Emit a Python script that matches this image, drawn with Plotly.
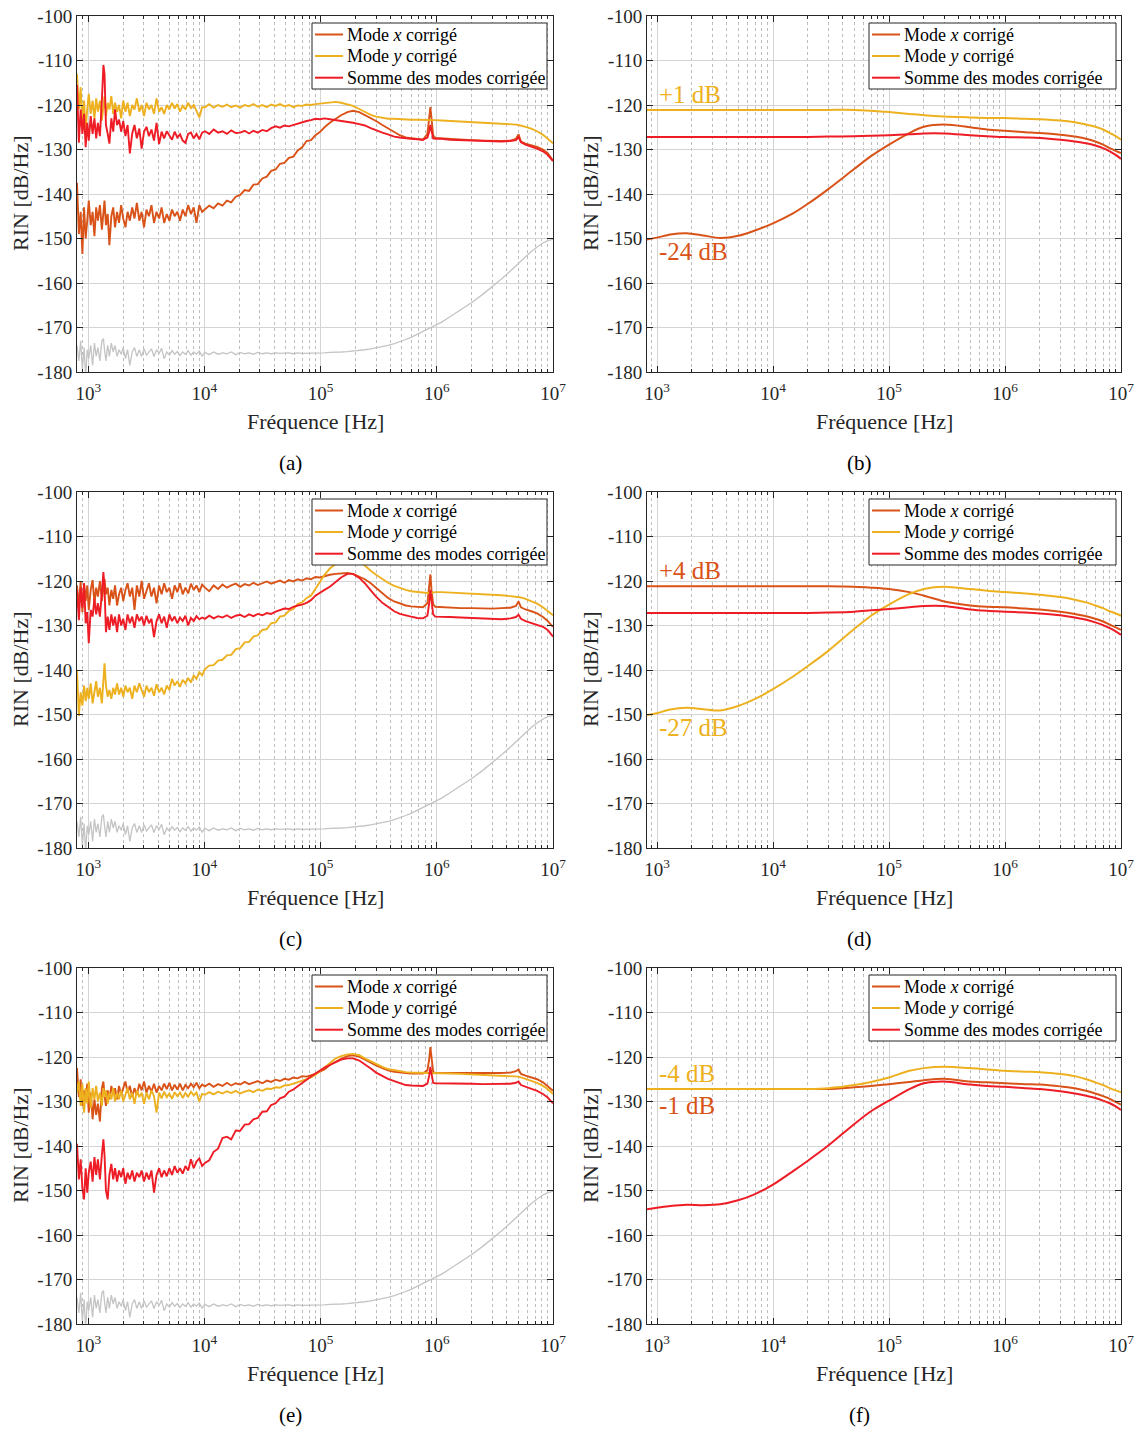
import math
import plotly.graph_objects as go

# ---------------- measured spectra (left column) ----------------
F = [800, 830, 860, 890, 920, 950, 980, 1010, 1050, 1090,
     1130, 1170, 1210, 1260, 1310, 1350, 1380, 1420, 1470, 1520,
     1580, 1640, 1700, 1770, 1840, 1920, 2000, 2090, 2180, 2280,
     2390, 2500, 2620, 2750, 2880, 3020, 3170, 3330, 3500, 3680,
     3870, 4070, 4280, 4500, 4740, 4990, 5260, 5540, 5840, 6160,
     6500, 6860, 7240, 7650, 8080, 8540, 9030, 9550,
     10100, 11000, 12000, 13100, 14300, 15600, 17000, 18600, 20300, 22200,
     24200, 26400, 28800, 31500, 34400, 37500, 41000, 44700, 48800, 53300,
     58200, 63500, 69300, 75700, 82600, 90200, 98500,
     108000, 120000, 135000, 150000, 170000, 190000, 215000, 240000, 270000, 300000,
     340000, 380000, 430000, 480000, 540000, 600000, 680000, 760000, 830000, 860000,
     880000, 900000, 930000, 970000,
     1.1e6, 1.3e6, 1.6e6, 2e6, 2.5e6, 3e6, 3.6e6, 4.3e6, 4.8e6, 5.05e6,
     5.3e6, 5.8e6, 6.5e6, 7.3e6, 8.2e6, 9e6, 1e7]

GRAY = [-174, -177.5, -173, -179.5, -174.5, -181, -175, -177, -174, -178.5,
        -173.5, -176.5, -174.5, -177.5, -173, -172.5, -175, -177.5, -174, -176.5,
        -173.5, -175.5, -174, -176.5, -175, -176, -174.5, -177, -175, -178.5,
        -175.5, -174.5, -176.5, -175, -176.5, -174.8, -176.2, -175.5, -174.8, -176.5,
        -175, -175.8, -174.7, -177, -175.5, -176.2, -175.2, -176, -175.4, -176.3,
        -175.5, -176, -175.2, -176.2, -175.5, -176, -175.3, -176.4,
        -175.6, -176.1, -175.5, -176, -175.7, -175.9, -175.5, -176.1, -175.6, -175.9,
        -175.7, -176, -175.6, -175.9, -175.7, -175.9, -175.7, -175.8, -175.8, -175.7,
        -175.9, -175.7, -175.8, -175.8, -175.7, -175.8, -175.7,
        -175.7, -175.6, -175.6, -175.5, -175.4, -175.3, -175.2, -175, -174.8, -174.6,
        -174.3, -174, -173.6, -173.2, -172.7, -172.2, -171.5, -170.9, -170.4, -170.2,
        -170.1, -170, -169.8, -169.5,
        -168.8, -167.6, -166.1, -164.4, -162.5, -160.9, -159.1, -157.3, -156.1, -155.6,
        -155.1, -154.1, -152.9, -151.9, -151, -150.5, -150.2]

A_X = [-137.5, -149, -144, -153.5, -143, -150, -146, -141.5, -147, -144,
       -149.5, -143, -146, -142.5, -148, -144, -141.5, -147, -144.5, -151.5,
       -145, -143, -147.5, -144, -146.5, -142.5, -145.5, -147.5, -144, -146,
       -143, -145.5, -142, -146, -144, -147.5, -143.5, -145, -142.5, -146.5,
       -144, -145.5, -143, -146.5, -144.5, -146, -143.5, -145, -144, -146,
       -143.5, -145, -142.5, -144.5, -143, -146.5, -142.5, -144,
       -143.5, -142.6, -143.2, -142.1, -142.6, -141.5, -141.9, -140.6, -140.2, -139.1,
       -139.3, -137.9, -137.8, -136.5, -136.1, -134.8, -134.5, -133.2, -133, -131.9,
       -131.6, -130.2, -129.5, -128.1, -127.9, -126.8, -126.1,
       -125, -124, -123, -122.3, -121.6, -121.3, -121.6, -122.2, -122.9, -123.6,
       -124.5, -125.3, -126.2, -126.8, -127.3, -127.5, -127.7, -127.8, -126.5, -123.5,
       -120.5, -123, -126.8, -127.4,
       -127.5, -127.7, -127.8, -127.9, -128, -128.1, -128.1, -128, -127.6, -126.6,
       -128.2, -128.7, -129, -129.4, -130, -130.8, -132.5]

A_Y = [-113, -121, -116, -124.5, -119, -125.5, -121, -117.5, -122, -119,
       -123, -118.5, -121.5, -119, -123.5, -120, -118, -122.5, -119.5, -121,
       -118, -122, -119.5, -121.5, -120, -123, -119, -121.5, -119.5, -122.5,
       -120, -121, -118.5, -121.5, -120, -122.5, -119.5, -121, -120, -122,
       -118.5, -121.5, -120.5, -122, -120, -121, -119.5, -120.8, -119.8, -121.5,
       -120.2, -121, -119.5, -120.7, -120, -121.3, -122.8, -120.5,
       -120.5, -119.8, -120.6, -120, -120.4, -119.9, -120.5, -120.1, -120.6, -120,
       -120.3, -119.8, -120.4, -120, -120.5, -119.9, -120.2, -119.8, -120.3, -120,
       -120.5, -120.1, -120.2, -119.9, -120, -119.8, -119.7,
       -119.6, -119.5, -119.3, -119.5, -119.8, -120.2, -120.9, -121.6, -122.2, -122.6,
       -122.9, -123.1, -123.1, -123.2, -123.2, -123.3, -123.3, -123.3, -123.3, -123.3,
       -123.4, -123.4, -123.4, -123.4,
       -123.5, -123.6, -123.7, -123.8, -123.9, -124.0, -124.1, -124.3, -124.4, -124.5,
       -124.6, -124.9, -125.3, -125.9, -126.7, -127.5, -128.6]

A_S = [-115.5, -128.5, -121, -126.5, -122, -129.5, -124, -128, -122.5, -126.5,
       -123, -127.5, -124, -127, -119, -111, -113, -124.5, -126.5, -128.7,
       -123, -126, -121, -124.5, -123.3, -126, -123.6, -127, -124.5, -130.9,
       -126.4, -124.5, -127.5, -125.3, -129.8, -126, -124.9, -127, -125.5, -128,
       -124, -128.8, -126, -127.5, -125.9, -127, -127.8, -126, -127.3, -126.6,
       -128, -128.5, -126.5, -126.2, -127.5, -126.5, -127.7, -126.2,
       -125.9, -126.5, -125.5, -126.2, -125.9, -126.5, -125.7, -126.3, -126.2, -125.8,
       -126.4, -125.8, -126.2, -125.6, -125.9, -125.2, -124.8, -125.1, -124.6, -124.8,
       -124.5, -124.1, -123.8, -123.6, -123.4, -123.1, -123.2,
       -123, -123.2, -123.4, -123.5, -123.7, -124, -124.3, -124.6, -125.2, -125.7,
       -126.2, -126.6, -127.1, -127.3, -127.5, -127.6, -127.7, -127.8, -127.3, -126,
       -124.5, -126, -127.5, -127.6,
       -127.6, -127.8, -127.9, -128.0, -128.1, -128.2, -128.2, -128.1, -127.9, -127.2,
       -128.4, -128.9, -129.3, -129.8, -130.4, -131.2, -132.6]

C_X = [-121, -126, -120, -127, -120.5, -124.5, -121, -126.5, -122, -119.8,
       -125, -121.5, -123.5, -120, -124.5, -121, -119.5, -123, -121.5, -125.5,
       -122, -124, -121, -125.5, -123, -121.5, -124.5, -122, -120.5, -123.5,
       -121.5, -126.5, -121, -123.5, -120, -124, -122, -120.5, -123.5, -121.5,
       -125, -121, -123, -120.5, -122.5, -121.5, -124, -121, -122.5, -120.5,
       -123, -121.5, -122.8, -120.6, -122, -121, -122.5, -120.8,
       -121.5, -122.3, -121, -121.8, -120.8, -121.5, -121, -120.6, -121.3, -120.7,
       -121, -120.4, -120.9, -120.5, -120.1, -120.6, -120.2, -119.9, -120.4, -119.8,
       -120.1, -119.6, -119.9, -119.4, -119.6, -119.1, -119.2,
       -118.9, -118.6, -118.4, -118.3, -118.2, -118.4, -119, -119.6, -120.5, -121.5,
       -122.8, -123.8, -124.6, -125.1, -125.5, -125.7, -125.8, -125.9, -125, -121.5,
       -118.5, -122, -125.2, -125.8,
       -125.9, -126, -126.1, -126.1, -126.2, -126.2, -126.1, -126, -125.6, -124.6,
       -125.9, -126.4, -126.8, -127.3, -128.1, -129, -130.3]

C_Y = [-140, -150.3, -145, -148, -143.5, -147, -144, -146.5, -143, -147.5,
       -145, -142.5, -146, -144, -147.5, -141, -138.5, -143.5, -146, -144.5,
       -146.5, -144, -145.5, -143, -145.5, -144, -146, -143.5, -145, -144,
       -146.5, -143.5, -145, -143, -144.5, -146, -143.5, -145, -144, -145.8,
       -143.2, -145, -144, -145.5, -143.5, -144.5, -142, -143.5, -142.5, -143.8,
       -142.2, -143, -141.8, -142.8, -141.2, -142, -140.5, -141.2,
       -139.8, -139.0, -138.9, -137.9, -137.7, -136.7, -136.6, -135.3, -135.1, -133.8,
       -133.7, -132.5, -132.2, -131.0, -130.8, -129.5, -129.3, -128.0, -127.8, -126.7,
       -126.3, -125.2, -124.8, -123.8, -123.3, -121.8, -120.2,
       -118.6, -117.2, -116.1, -115.2, -114.6, -114.6, -115.4, -116.6, -117.7, -118.6,
       -119.6, -120.4, -121.1, -121.6, -122, -122.3, -122.5, -122.6, -122.7, -122.7,
       -122.8, -122.7, -122.6, -122.5,
       -122.5, -122.6, -122.7, -122.8, -122.9, -123, -123.2, -123.4, -123.5, -123.6,
       -123.7, -124, -124.5, -125.1, -125.9, -126.7, -127.7]

C_S = [-122, -128.8, -121.5, -126, -120.5, -129.5, -127, -134, -126.5, -128,
       -124, -127.5, -125, -128, -122.5, -118, -121.5, -131.5, -128, -131,
       -127.5, -130, -128, -131.5, -127.5, -130, -128.5, -131, -127.5, -129.5,
       -128, -130.5, -127.5, -129, -128, -130, -127.8, -129.5, -128.5, -132.6,
       -129, -127.5, -129.5, -128, -130.5, -127.5, -129, -128, -129.5, -128.2,
       -129, -127.8, -130, -128.3, -129, -127.9, -128.6, -128.2,
       -128.5, -127.8, -128.4, -127.9, -128.2, -127.7, -128.3, -127.8, -127.6, -128.1,
       -127.5, -127.9, -127.4, -127.7, -127.2, -127.4, -126.9, -126.6, -126.2, -126.3,
       -125.8, -125.5, -125.3, -124.9, -124.3, -123.3, -122.6,
       -122, -121.3, -120.2, -119.2, -118.4, -118.4, -119.3, -120.5, -122.1, -123.5,
       -124.9, -125.8, -126.8, -127.4, -127.8, -128, -128.3, -128.4, -127.8, -125,
       -122, -125, -127.5, -128,
       -128, -128.1, -128.2, -128.3, -128.5, -128.6, -128.6, -128.4, -128.1, -127.6,
       -128.5, -129, -129.4, -129.8, -130.3, -131, -132.5]

E_X = [-122.5, -129, -125, -131, -127.5, -130, -126, -132.5, -128, -134,
       -129.5, -133, -130.5, -134.5, -127, -125.5, -128.5, -131, -127.5, -129.5,
       -126.5, -128.5, -127, -129.5, -126.5, -128.5, -127, -125.5, -128, -126.5,
       -129, -127, -128.5, -126, -127.5, -125.5, -128, -126.5, -127.8, -126,
       -128, -126.5, -127.5, -126, -127.2, -125.8, -127.5, -126.2, -127.3, -126,
       -127.5, -126.3, -127, -126, -126.8, -125.8, -127, -126.2,
       -126.6, -126, -126.7, -126.1, -126.5, -125.8, -126.4, -125.9, -126.2, -125.6,
       -126.1, -125.7, -125.4, -125.9, -125.3, -125.6, -125.1, -125.4, -124.9, -125.1,
       -124.6, -124.8, -124.3, -124.4, -124.1, -123.8, -123.3,
       -122.8, -121.8, -121, -120.4, -119.8, -119.6, -119.9, -120.6, -121.3, -121.9,
       -122.5, -123, -123.3, -123.5, -123.6, -123.7, -123.7, -123.7, -123, -120.5,
       -117.8, -120.5, -123.3, -123.6,
       -123.6, -123.6, -123.7, -123.7, -123.7, -123.7, -123.6, -123.5, -123.2, -122.8,
       -123.8, -124.2, -124.6, -125, -125.7, -126.5, -127.6]

E_Y = [-128, -125.5, -131, -126, -132.5, -127, -130.5, -125.5, -131.5, -127,
       -129.5, -126.5, -130, -128, -131, -127, -129, -127.5, -130.5, -128,
       -129.5, -127, -130, -128, -129.5, -127.5, -130, -128.5, -127, -129.5,
       -128, -130.5, -127.5, -129, -128, -130.5, -128, -129.5, -127.5, -128.8,
       -132.5, -128, -129.3, -127.8, -129, -128.2, -129.4, -127.9, -128.8, -128,
       -129.2, -128.1, -128.9, -127.8, -128.6, -128, -130, -128.3,
       -128.5, -127.9, -128.4, -127.8, -128.2, -127.7, -128.1, -127.6, -128.2, -127.8,
       -127.5, -127.9, -127.3, -127.6, -127.1, -127.2, -126.8, -126.9, -126.4, -126.3,
       -126, -125.7, -125.4, -125, -124.6, -124, -123.2,
       -122.4, -121.3, -120.3, -119.8, -119.4, -119.3, -119.6, -120.3, -121, -121.6,
       -122.2, -122.7, -123, -123.2, -123.4, -123.5, -123.6, -123.6, -123.6, -123.6,
       -123.7, -123.6, -123.6, -123.6,
       -123.7, -123.7, -123.8, -123.9, -124, -124.1, -124.2, -124.3, -124.4, -124.4,
       -124.6, -124.9, -125.3, -125.8, -126.5, -127.2, -128.3]

E_S = [-139.5, -147.5, -143, -149.5, -152, -145, -150.5, -146, -143.5, -148,
       -142.5, -146.5, -143, -147.5, -142, -138.5, -142, -150, -152, -146.5,
       -144, -147.5, -145, -148, -145.5, -147, -145, -148.5, -146, -147.5,
       -145.5, -148, -146, -147, -145.5, -148, -146, -147.5, -145.5, -150.5,
       -146.5, -145, -147, -145.5, -146.8, -145, -146.5, -144.5, -146, -145,
       -146.2, -144.5, -145.5, -143, -145, -143.5, -142.8, -144.5,
       -143.8, -143.2, -141.3, -140.6, -138.2, -137.9, -138.5, -136.5, -136.6, -135.2,
       -135.1, -134, -133.7, -132.3, -132.2, -130.8, -130.4, -129.3, -128.9, -127.8,
       -127.3, -126.5, -125.8, -125.1, -124.4, -123.7, -123,
       -122.4, -121.8, -121.1, -120.6, -120.3, -120.3, -120.8, -121.6, -122.6, -123.5,
       -124.3, -124.9, -125.4, -125.9, -126.3, -126.4, -126.5, -126.5, -126, -124.2,
       -122.2, -124.2, -125.8, -125.9,
       -125.9, -125.9, -126, -126, -126.1, -126.1, -126.1, -126, -125.8, -125.5,
       -126.3, -126.7, -127.1, -127.6, -128.3, -129.1, -130.4]

# ---------------- model curves (right column) ----------------
FM = [820, 1000, 1300, 1800, 2500, 3500, 5000, 7000, 10000, 15000, 20000,
      30000, 50000, 70000, 100000, 150000, 200000, 300000, 500000, 700000,
      1e6, 1.5e6, 2e6, 3e6, 4e6, 5e6, 6e6, 7e6, 8e6, 9e6, 1e7]

B_X = [-150.2, -149.8, -149.1, -148.8, -149.3, -149.9, -149.4, -148.2, -146.6, -144.3, -142.2,
       -138.9, -134.4, -131.5, -128.9, -126.3, -124.9, -124.4, -125.0, -125.5,
       -125.8, -126.1, -126.3, -126.7, -127.1, -127.6, -128.2, -128.9, -129.7, -130.3, -130.8]
B_Y = [-121.1, -121.1, -121.1, -121.1, -121.1, -121.1, -121.1, -121.1, -121.1, -121.1, -121.1,
       -121.1, -121.1, -121.3, -121.6, -122.0, -122.3, -122.6, -122.8, -122.9,
       -122.9, -123.1, -123.2, -123.5, -123.9, -124.4, -124.9, -125.5, -126.3, -127.0, -127.8]
B_S = [-127.2, -127.2, -127.2, -127.2, -127.2, -127.2, -127.2, -127.2, -127.2, -127.2, -127.2,
       -127.1, -127.0, -126.9, -126.8, -126.6, -126.4, -126.4, -126.8, -127.0,
       -127.2, -127.3, -127.4, -127.8, -128.2, -128.6, -129.1, -129.7, -130.4, -131.2, -132.1]

D_X = [-121.2, -121.2, -121.2, -121.2, -121.2, -121.2, -121.2, -121.2, -121.2, -121.2, -121.2,
       -121.2, -121.3, -121.5, -121.8, -122.5, -123.3, -124.6, -125.5, -125.8,
       -125.9, -126.2, -126.4, -126.9, -127.4, -127.9, -128.5, -129.1, -129.8, -130.4, -131.0]
D_Y = [-150.1, -149.7, -148.9, -148.5, -148.8, -149.1, -148.1, -146.5, -144.3, -141.4, -139.1,
       -135.7, -130.8, -127.8, -125.3, -122.9, -121.8, -121.3, -121.8, -122.2,
       -122.5, -122.8, -123.1, -123.6, -124.2, -124.8, -125.5, -126.1, -126.8, -127.3, -127.8]
D_S = [-127.2, -127.2, -127.2, -127.2, -127.2, -127.2, -127.2, -127.2, -127.2, -127.2, -127.2,
       -127.1, -126.9, -126.6, -126.3, -125.9, -125.6, -125.6, -126.4, -126.7,
       -126.9, -127.1, -127.3, -127.7, -128.2, -128.7, -129.3, -129.9, -130.6, -131.3, -132.1]

G_X = [-127.2, -127.2, -127.2, -127.2, -127.2, -127.2, -127.2, -127.2, -127.2, -127.2, -127.2,
       -127.2, -126.8, -126.5, -126.1, -125.6, -125.2, -124.9, -125.5, -125.7,
       -125.9, -126.1, -126.2, -126.6, -127.0, -127.6, -128.2, -128.8, -129.4, -130.1, -130.7]
G_Y = [-127.2, -127.2, -127.2, -127.2, -127.2, -127.2, -127.2, -127.2, -127.2, -127.2, -127.2,
       -127.0, -126.3, -125.6, -124.6, -123.1, -122.5, -122.2, -122.5, -122.8,
       -123.1, -123.3, -123.4, -123.8, -124.3, -125.0, -125.7, -126.3, -127.0, -127.5, -127.9]
G_S = [-154.2, -153.9, -153.5, -153.2, -153.3, -153.1, -152.2, -150.8, -148.7, -145.6, -143.3,
       -139.9, -135.1, -132.2, -129.8, -127.2, -125.9, -125.5, -126.2, -126.5,
       -126.7, -127.0, -127.2, -127.7, -128.2, -128.7, -129.2, -129.8, -130.4, -131.1, -131.9]

LEGEND_NAMES = ["Mode <i>x</i> corrigé", "Mode <i>y</i> corrigé", "Somme des modes corrigée"]
PANEL_LABELS = ["(a)", "(b)", "(c)", "(d)", "(e)", "(f)"]
X_TICKS = [1e3, 1e4, 1e5, 1e6, 1e7]
X_TICKTEXT = ["10<sup>3</sup>", "10<sup>4</sup>", "10<sup>5</sup>", "10<sup>6</sup>", "10<sup>7</sup>"]
Y_TICKS = [-180, -170, -160, -150, -140, -130, -120, -110, -100]
Y_TICKTEXT = ["-180", "-170", "-160", "-150", "-140", "-130", "-120", "-110", "-100"]
# annotation texts on model panels: (text, colour key, y value)
DB_NOTES = {1: [("+1 dB", "y", -117.7), ("-24 dB", "x", -153.0)],
            3: [("+4 dB", "x", -117.6), ("-27 dB", "y", -153.0)],
            5: [("-4 dB", "y", -123.8), ("-1 dB", "x", -131.0)]}

for arr in (GRAY, A_X, A_Y, A_S, C_X, C_Y, C_S, E_X, E_Y, E_S):
    assert len(arr) == len(F), len(arr)
for arr in (B_X, B_Y, B_S, D_X, D_Y, D_S, G_X, G_Y, G_S):
    assert len(arr) == len(FM), len(arr)

# ---------------- styling ----------------
FONT = "Liberation Serif"
COL = {"x": "#D95319", "y": "#EDB120", "s": "#EE1C25"}
COL_G = "#C4C4C4"
AX = "#262626"
W, H = 1145, 1431

XD = [[77 / W, 553 / W], [647 / W, 1121 / W]]
ROW_TOP = [16, 492, 968]
ROW_BOT = [372, 848, 1324]
XR = [[math.log10(800), 7], [math.log10(820), 7]]
MINOR = [m * 10 ** e for e in range(2, 7) for m in range(2, 10)]
# legend box geometry (pixels, relative to the row top / column)
LEG_BOX = [(312, 547), (869, 1116)]   # left/right x of the box per column
LEG_TOP, LEG_BOT = 7, 73               # offsets from the axis top
LEG_ROWS = [18.5, 40, 61.7]            # entry centres, offsets from the axis top
LEG_LINE = 28                          # sample line length

panels = [
    (0, 0, F, (A_X, A_Y, A_S), True),
    (0, 1, FM, (B_X, B_Y, B_S), False),
    (1, 0, F, (C_X, C_Y, C_S), True),
    (1, 1, FM, (D_X, D_Y, D_S), False),
    (2, 0, F, (E_X, E_Y, E_S), True),
    (2, 1, FM, (G_X, G_Y, G_S), False),
]


def px(x):
    return x / W


def py(y):
    return 1 - y / H


fig = go.Figure()
annotations = []
shapes = []
layout = {}

for i, (row, col, freq, series, measured) in enumerate(panels):
    n = i + 1
    xa = "x" if n == 1 else f"x{n}"
    ya = "y" if n == 1 else f"y{n}"

    if measured:
        fig.add_trace(go.Scatter(x=freq, y=GRAY, mode="lines", xaxis=xa, yaxis=ya,
                                 line=dict(color=COL_G, width=1.3), showlegend=False,
                                 hoverinfo="skip"))
    for key, vals, name in zip(("x", "y", "s"), series, LEGEND_NAMES):
        fig.add_trace(go.Scatter(
            x=freq, y=vals, mode="lines", name=name, xaxis=xa, yaxis=ya, showlegend=False,
            line=dict(color=COL[key], width=1.9 if measured else 2.0,
                      shape="linear" if measured else "spline", smoothing=0.8)))

    ytop = py(ROW_TOP[row])
    ybot = py(ROW_BOT[row])
    common = dict(ticks="inside", ticklen=6, tickwidth=1, tickcolor=AX,
                  showline=True, linecolor=AX, linewidth=1, mirror="ticks",
                  showgrid=True, gridcolor="#D4D4D4", gridwidth=1.3, zeroline=False,
                  automargin=False, tickfont=dict(family=FONT, size=19, color=AX),
                  fixedrange=True)
    layout["xaxis" if n == 1 else f"xaxis{n}"] = dict(
        type="log", range=XR[col], domain=XD[col], anchor=ya,
        tickmode="array", tickvals=X_TICKS, ticktext=X_TICKTEXT, ticklabelstandoff=4,
        minor=dict(tickmode="array", tickvals=MINOR, ticks="inside", ticklen=3,
                   tickcolor=AX, showgrid=True, gridcolor="#BDBDBD",
                   griddash="dot", gridwidth=1),
        **common)
    layout["yaxis" if n == 1 else f"yaxis{n}"] = dict(
        range=[-180, -100], domain=[ybot, ytop], anchor=xa,
        tickmode="array", tickvals=Y_TICKS, ticktext=Y_TICKTEXT, **common)

    # legend drawn as a boxed key in the upper right of each panel
    lx0, lx1 = LEG_BOX[col]
    top = ROW_TOP[row]
    shapes.append(dict(type="rect", xref="paper", yref="paper", layer="above",
                       x0=px(lx0), x1=px(lx1), y0=py(top + LEG_BOT), y1=py(top + LEG_TOP),
                       fillcolor="white", line=dict(color=AX, width=1)))
    for key, name, off in zip(("x", "y", "s"), LEGEND_NAMES, LEG_ROWS):
        yy = py(top + off)
        shapes.append(dict(type="line", xref="paper", yref="paper", layer="above",
                           x0=px(lx0 + 3), x1=px(lx0 + 3 + LEG_LINE), y0=yy, y1=yy,
                           line=dict(color=COL[key], width=2)))
        annotations.append(dict(text=name, x=px(lx0 + 3 + LEG_LINE + 2), y=yy,
                                xref="paper", yref="paper", showarrow=False,
                                xanchor="left", yanchor="middle",
                                font=dict(family=FONT, size=18, color="black")))

    xc = (XD[col][0] + XD[col][1]) / 2
    annotations.append(dict(text="Fréquence [Hz]", x=xc, y=py(ROW_BOT[row] + 49),
                            xref="paper", yref="paper", showarrow=False,
                            xanchor="center", yanchor="middle",
                            font=dict(family=FONT, size=22, color=AX)))
    annotations.append(dict(text="RIN [dB/Hz]", x=px(20 if col == 0 else 590),
                            y=(ytop + ybot) / 2, xref="paper", yref="paper",
                            showarrow=False, textangle=-90, xanchor="center",
                            yanchor="middle", font=dict(family=FONT, size=22, color=AX)))
    annotations.append(dict(text=PANEL_LABELS[i], x=px(290 if col == 0 else 859),
                            y=py(ROW_BOT[row] + 91), xref="paper", yref="paper",
                            showarrow=False, xanchor="center", yanchor="middle",
                            font=dict(family=FONT, size=21, color="black")))
    for text, key, yv in DB_NOTES.get(i, []):
        annotations.append(dict(text=text, x=3, y=yv, xref=xa, yref=ya, showarrow=False,
                                xanchor="left", yanchor="middle",
                                font=dict(family=FONT, size=25, color=COL[key])))

fig.update_layout(width=W, height=H,
                  margin=dict(l=0, r=0, t=0, b=0, pad=0, autoexpand=False),
                  paper_bgcolor="white", plot_bgcolor="white", showlegend=False,
                  annotations=annotations, shapes=shapes, **layout)

fig.write_html(
    "out.html",
    config={"displayModeBar": False},
    post_script=("document.documentElement.style.margin='0';"
                 "document.body.style.margin='0';"
                 "document.body.style.padding='0';"
                 "document.body.style.overflow='hidden';"))
